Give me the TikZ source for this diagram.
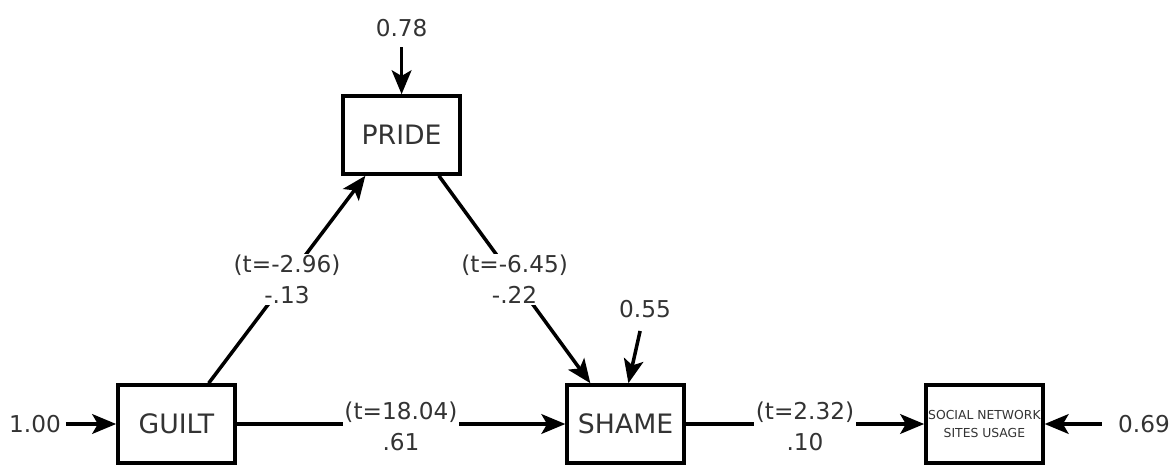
\documentclass[tikz,border=0pt]{standalone}
\usepackage{fontspec}
\setmainfont{DejaVu Sans}
\usetikzlibrary{arrows.meta}

\begin{document}
\begin{tikzpicture}[
  box/.style={draw,line width=2.5pt,minimum width=2.925cm,minimum height=1.95cm,inner sep=0pt,font=\fontsize{19}{23}\selectfont,text=black!80},
  err/.style={font=\fontsize{16.5}{20}\selectfont,text=black!80},
  coef/.style={fill=white,align=center,inner sep=1pt,font=\fontsize{16.5}{22}\selectfont,text=black!80},
  arr/.style={line width=2.5pt,-{Stealth[length=17pt,width=14pt,inset=4pt]}}]
  \useasboundingbox (0,0) rectangle (29.275,11.6);
  \node[box] (pride) at (10.04,8.225) {PRIDE};
  \node[box] (guilt) at (4.41,1) {GUILT};
  \node[box] (shame) at (15.64,1) {SHAME};
  \node[box,align=center,font=\fontsize{8.8}{12.5}\selectfont] (sns) at (24.61,1) {SOCIAL NETWORK\\SITES USAGE};
  \node[err] (e78) at (10.04,10.9) {0.78};
  \node[err] (e100) at (0.875,1) {1.00};
  \node[err] (e55) at (16.125,3.875) {0.55};
  \node[err] (e69) at (28.6,1) {0.69};
  \draw[arr,shorten <=4pt] (e78) -- (pride);
  \draw[arr] (e100) -- (guilt);
  \draw[arr,shorten <=6pt] (e55) -- ([xshift=0.07cm]shame.north);
  \draw[arr,shorten <=8pt] (e69) -- (sns);
  \draw[arr] ([xshift=-0.7cm]guilt.north east) -- node[coef] {(t=-2.96)\\-.13} ([xshift=0.6cm]pride.south west);
  \draw[arr] ([xshift=-0.575cm]pride.south east) -- node[coef] {(t=-6.45)\\-.22} ([xshift=0.625cm]shame.north west);
  \draw[arr] (guilt) -- node[coef,yshift=-2pt] {(t=18.04)\\.61} (shame);
  \draw[arr] (shame) -- node[coef,yshift=-2pt] {(t=2.32)\\.10} (sns);
\end{tikzpicture}
\end{document}
